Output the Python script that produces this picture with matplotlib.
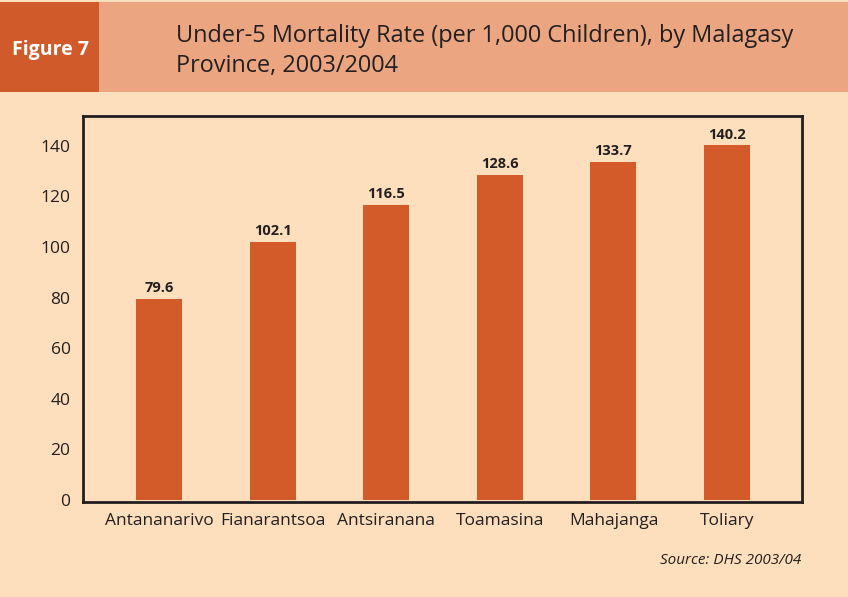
import matplotlib.pyplot as plt
import matplotlib.patches as patches
import numpy as np

provinces = ["Antananarivo", "Fianarantsoa", "Antsiranana", "Toamasina", "Mahajanga", "Toliary"]
mortality = [79.6, 102.1, 116.5, 128.6, 133.7, 140.2]
yticks = [0, 20, 40, 60, 80, 100, 120, 140]

bg = "#FDDFBD"
band = "#EBA681"
dark = "#D05A29"
bar_color = "#D35B29"
ink = "#231F20"

plt.rcParams['font.family'] = ['Open Sans', 'DejaVu Sans']

fig = plt.figure(figsize=(8.48, 5.97), dpi=100)
fig.patch.set_facecolor(bg)

# header band
W, H = 848, 597
fig.patches.append(patches.Rectangle((0, 1 - 92 / H), 1, 90 / H, transform=fig.transFigure,
                                     facecolor=band, edgecolor="none", zorder=0))
fig.patches.append(patches.Rectangle((0, 1 - 92 / H), 99 / W, 90 / H, transform=fig.transFigure,
                                     facecolor=dark, edgecolor="none", zorder=0))
fig.text(51 / W, 1 - 50 / H, "Figure 7", color="white", fontsize=14, fontweight="bold",
         ha="center", va="center")
fig.text(176 / W, 1 - 51 / H, "Under-5 Mortality Rate (per 1,000 Children), by Malagasy\nProvince, 2003/2004",
         color=ink, fontsize=16.9, ha="left", va="center", linespacing=1.28)

ax = fig.add_axes([83 / W, 1 - 502 / H, (802 - 83) / W, (502 - 116) / H])
ax.set_facecolor(bg)
x = np.arange(len(provinces))
bars = ax.bar(x, mortality, width=0.405, color=bar_color, zorder=2)
for xi, v in zip(x, mortality):
    ax.text(xi, v + 1.5, f"{v}", ha="center", va="bottom", fontsize=10.5,
            fontweight="bold", color=ink)

ax.set_xlim(-0.67, 5.66)
ax.set_ylim(-0.8, 151.8)
ax.set_yticks(yticks)
ax.set_xticks(x)
ax.set_xticklabels(provinces)
ax.tick_params(axis="both", length=0, labelsize=12.5, colors=ink, pad=8)
ax.tick_params(axis="y", pad=9)
for lbl in ax.get_yticklabels():
    lbl.set_verticalalignment("center_baseline")
for s in ax.spines.values():
    s.set_linewidth(2)
    s.set_color(ink)

fig.text(801 / W, 1 - 561 / H, "Source: DHS 2003/04", ha="right", va="center",
         fontsize=11, style="italic", color=ink)

fig.savefig("out.png", dpi=100, facecolor=bg)
